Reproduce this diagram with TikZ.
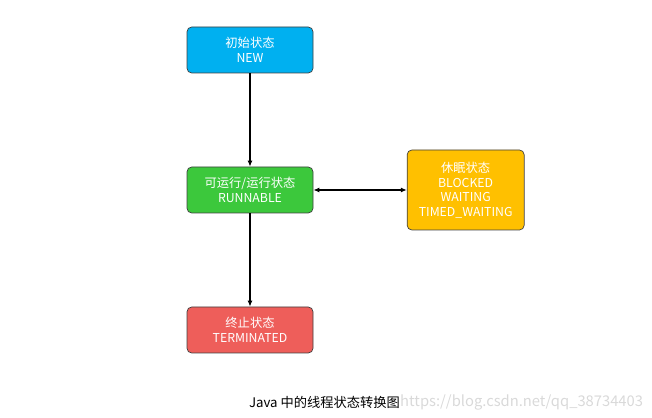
\documentclass[tikz,border=0pt]{standalone}
\usepackage{fontspec}
\setmainfont{Noto Sans CJK SC}
\usepackage{tikz}
\usetikzlibrary{arrows.meta, positioning}
\definecolor{newblue}{HTML}{00B0F0}
\definecolor{rungreen}{HTML}{3CC83C}
\definecolor{sleeporange}{HTML}{FFC000}
\definecolor{termred}{HTML}{EE5E5A}

\begin{document}
\begin{tikzpicture}[
    st/.style={draw=black!75, rectangle, rounded corners=4pt, minimum width=3.78cm, minimum height=1.38cm, align=center, text=white, font=\fontsize{10.5}{12.5}\selectfont, inner sep=2pt, line width=0.6pt},
    arr/.style={-{Latex[length=1.8mm, width=1.5mm]}, line width=1pt},
    darr/.style={{Latex[length=1.8mm, width=1.5mm]}-{Latex[length=1.8mm, width=1.5mm]}, line width=1pt}]
    \useasboundingbox (0,0) rectangle (19.56,-12.54);
    \node[st, fill=newblue] (new) at (7.5,-1.5) {初始状态\\NEW};
    \node[st, fill=rungreen] (run) at (7.5,-5.7) {可运行/运行状态\\RUNNABLE};
    \node[st, fill=sleeporange, minimum width=3.51cm, minimum height=2.4cm] (sleep) at (13.97,-5.7) {休眠状态\\BLOCKED\\WAITING\\TIMED\_WAITING};
    \node[st, fill=termred] (term) at (7.5,-9.9) {终止状态\\TERMINATED};
    \draw[arr] (new) -- (run);
    \draw[arr] (run) -- (term);
    \draw[darr] (run) -- (sleep);
    \node[font=\fontsize{11.3}{13}\selectfont, anchor=east, inner sep=0pt] (cap) at (12.0,-12.06) {Java 中的线程状态转换图};
    \node[font=\fontsize{12.6}{14}\selectfont, text=black!15, anchor=west, inner sep=0pt] (wm) at (12.0,-12.06) {https://blog.csdn.net/qq\_38734403};
  \end{tikzpicture}
\end{document}
